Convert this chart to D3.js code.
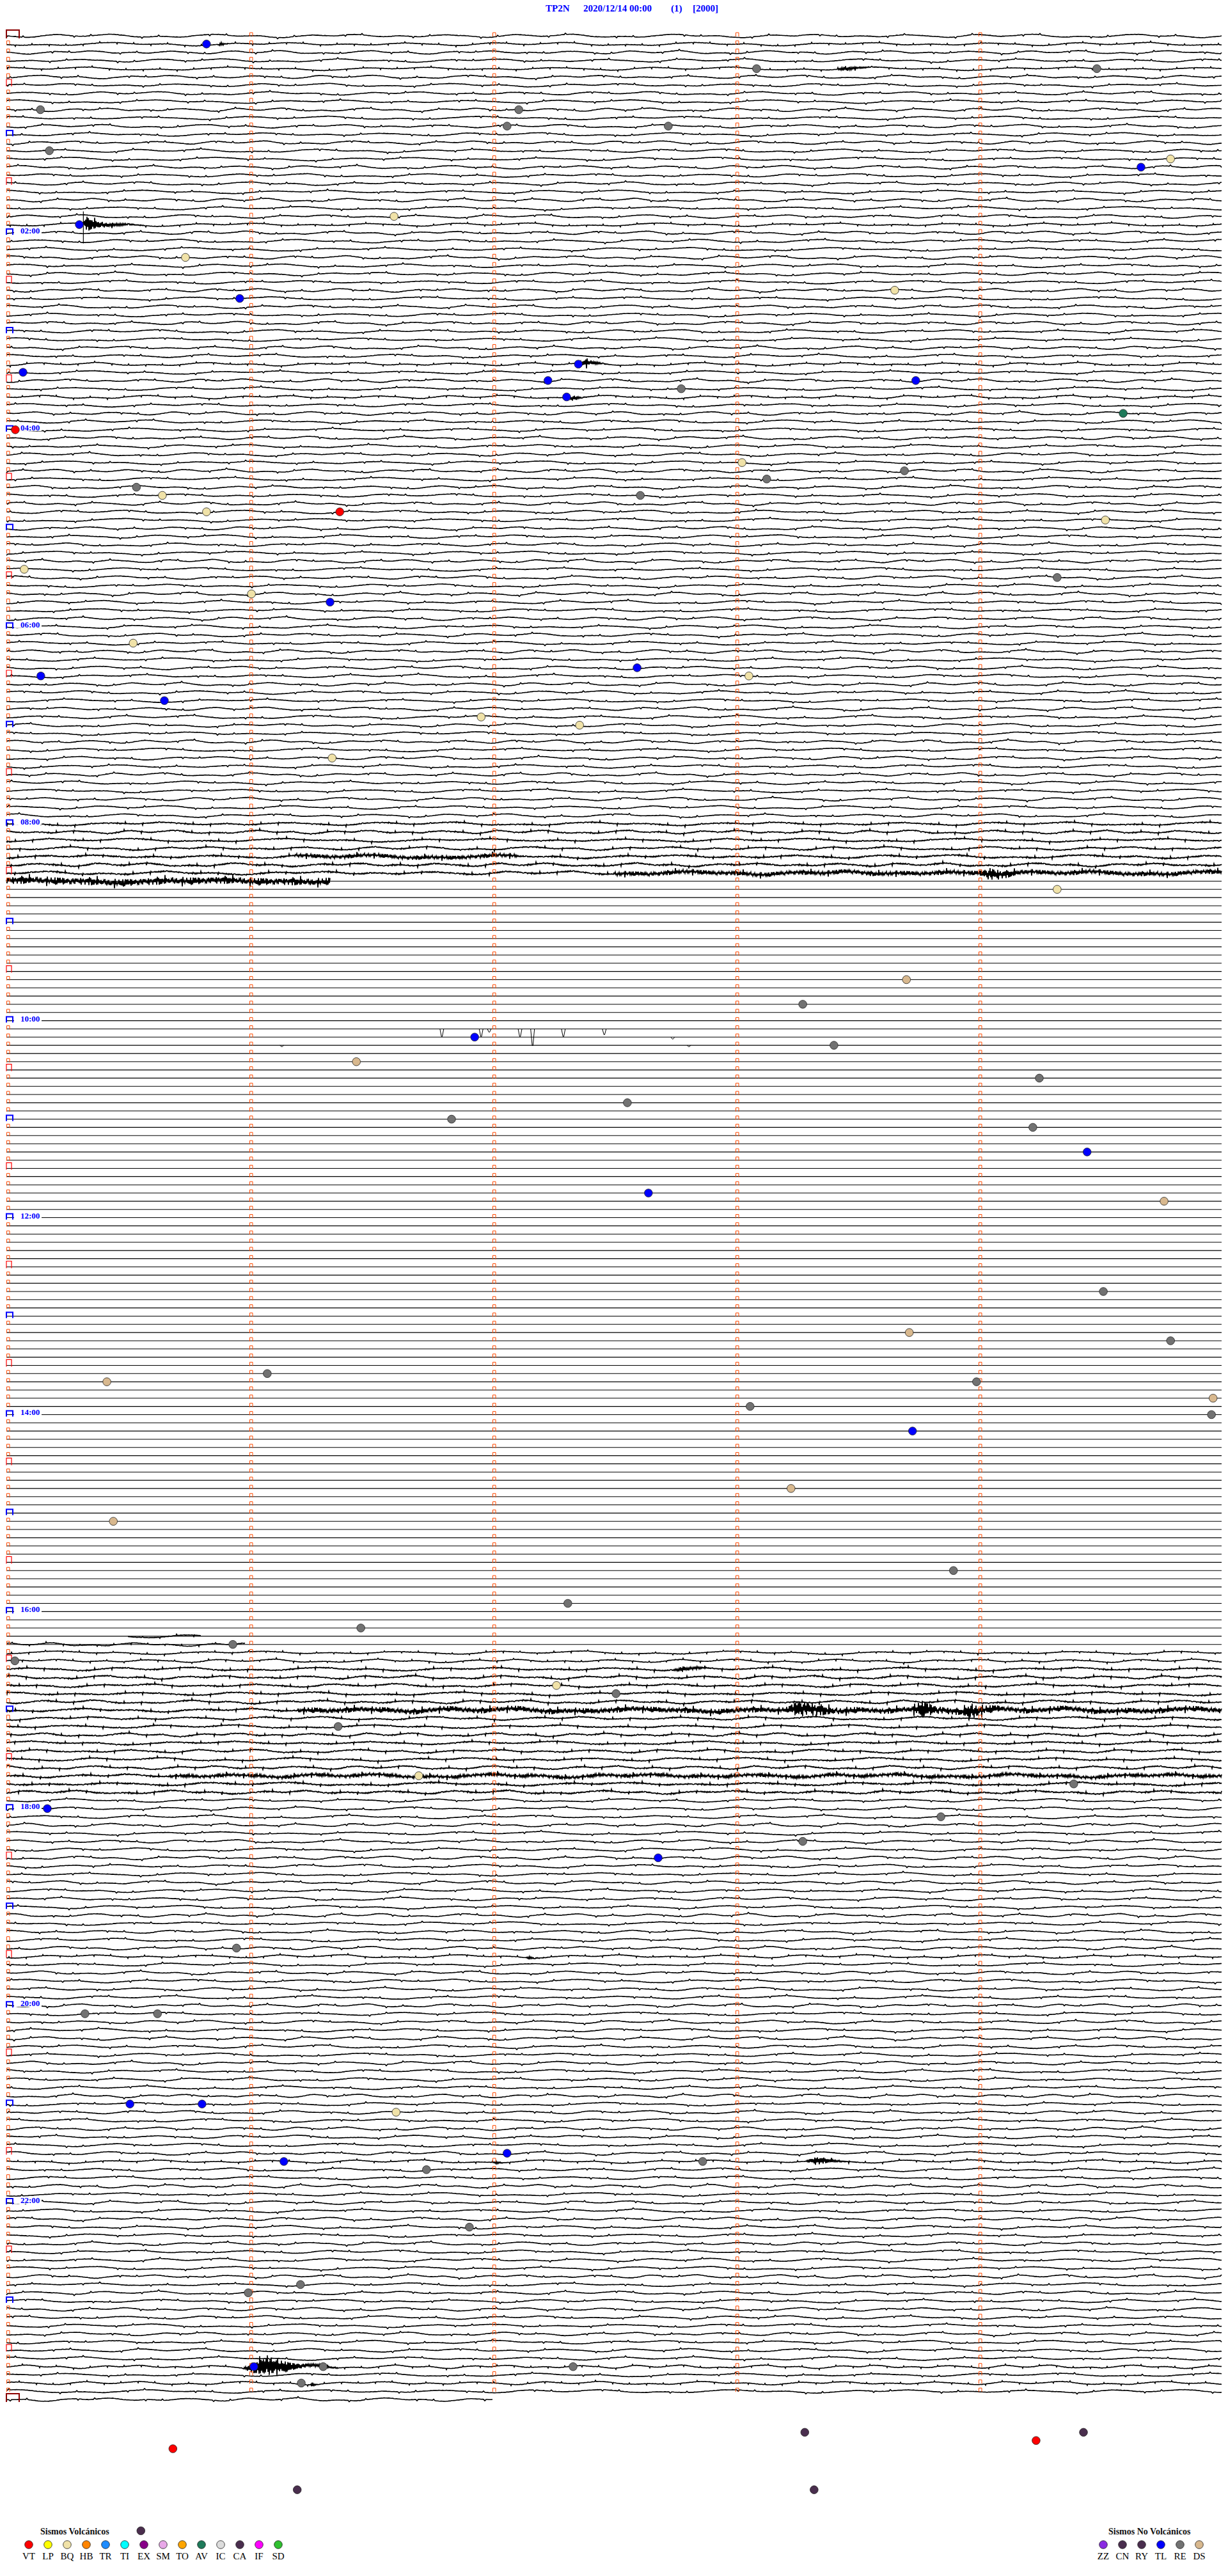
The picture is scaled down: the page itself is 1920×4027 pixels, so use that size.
<!DOCTYPE html>
<html>
<head>
<meta charset="utf-8">
<script src="https://cdn.jsdelivr.net/npm/d3@7"></script>
<style>
  body { margin: 0; background: #fff; }
  svg { display: block; }
</style>
</head>
<body>
<div id="helicorder"></div>
<script>
// ---- header / page info
const titleParts = ['TP2N', '2020/12/14 00:00', '(1)', '[2000]']

// ---- time layout: one line per 5 minutes, 24 h + a stub line for 24:00
const secondsPerRow = 300
const rowCount = 289
const lastRowSeconds = 120
const hourLabels = ['02:00', '04:00', '06:00', '08:00', '10:00', '12:00', '14:00', '16:00', '18:00', '20:00', '22:00']
const hourLabelRows = [24, 48, 72, 96, 120, 144, 168, 192, 216, 240, 264]

// rows with a dead (straight) trace: [fromRow, toRow]
const flatRows = [[104, 194]]
// rows that are flat except for a wiggly stretch: [row, fromSec, toSec]
const partialRows = [[103, 0, 80], [195, 30, 48], [196, 0, 59]]
// glitches on the dead trace: [row, sec, depth]
const dips = [
  [121, 107.5, 12], [121, 117.2, 12], [121, 119.2, 5], [121, 126.8, 12], [121, 129.9, 26],
  [121, 137.5, 12], [121, 147.6, 9], [122, 164.5, 3], [123, 168.5, 2], [123, 68, 2]
]
// background noise level per block of rows: [fromRow, toRow, level]
const noiseBlocks = [
  [0, 95, 1], [96, 99, 1.7], [100, 102, 2], [103, 103, 3],
  [195, 198, 1.2], [199, 203, 1.8], [204, 204, 2], [205, 211, 1.7], [212, 214, 2], [215, 288, 1]
]
// steady noise bands: [row, fromSec, toSec, amplitude]
const noiseBands = [
  [100, 71, 126, 2.5], [102, 150, 300, 3], [103, 0, 80, 4.5], [204, 72, 300, 4], [212, 40, 300, 2]
]
// impulsive signals: [row, startSec, peakSec, endSec, amplitude]
const quakes = [
  [1, 52, 53, 55, 4], [4, 205, 207, 216, 5], [23, 18.5, 20, 34, 12], [40, 141, 143, 149, 8],
  [44, 138, 140, 144, 6], [102, 240, 243, 252, 9], [199, 164.5, 167, 174, 5],
  [204, 193, 196, 210, 12], [204, 223, 226, 236, 10], [204, 236, 238, 246, 12],
  [234, 128, 129, 134, 3], [259, 120, 121, 124, 3], [259, 197, 200, 210, 8],
  [284, 58, 64.5, 82, 20], [286, 72.5, 72.8, 74, 6], [286, 75, 75.3, 77, 6]
]
// vertical pick line: [sec, fromRow, toRow]
const picks = [[19, 21.4, 25.3]]

// ---- classified events: [row, sec, type]
const events = [
  [1, 49.4, 'TL'], [4, 185.2, 'RE'], [4, 269.2, 'RE'], [9, 8.4, 'RE'], [9, 126.5, 'RE'],
  [11, 123.6, 'RE'], [11, 163.4, 'RE'], [14, 10.6, 'RE'], [15, 287.4, 'BQ'], [16, 280.1, 'TL'],
  [22, 95.7, 'BQ'], [23, 18.0, 'TL'], [27, 44.2, 'BQ'], [31, 219.3, 'BQ'], [32, 57.6, 'TL'],
  [41, 4.1, 'TL'], [40, 141.2, 'TL'], [42, 133.7, 'TL'], [42, 224.5, 'TL'], [43, 166.6, 'RE'],
  [44, 138.3, 'TL'], [46, 275.7, 'AV'], [48, 2.2, 'VT'], [52, 181.6, 'BQ'], [54, 187.7, 'RE'],
  [53, 221.7, 'RE'], [55, 32.1, 'RE'], [56, 156.5, 'RE'], [56, 38.5, 'BQ'], [58, 49.4, 'BQ'],
  [58, 82.3, 'VT'], [59, 271.3, 'BQ'], [65, 4.4, 'BQ'], [66, 259.4, 'RE'], [68, 60.5, 'BQ'],
  [69, 79.9, 'TL'], [74, 31.3, 'BQ'], [78, 8.5, 'TL'], [77, 155.7, 'TL'], [78, 183.3, 'BQ'],
  [81, 39.0, 'TL'], [83, 117.2, 'BQ'], [84, 141.5, 'BQ'], [88, 80.4, 'BQ'], [104, 259.4, 'BQ'],
  [115, 222.2, 'DS'], [118, 196.6, 'RE'], [122, 115.6, 'TL'], [123, 204.3, 'RE'], [125, 86.4, 'DS'],
  [127, 255.0, 'RE'], [130, 153.3, 'RE'], [132, 109.9, 'RE'], [133, 253.4, 'RE'], [136, 266.8, 'TL'],
  [141, 158.5, 'TL'], [142, 285.8, 'DS'], [153, 270.8, 'RE'], [158, 222.9, 'DS'], [159, 287.4, 'RE'],
  [163, 64.4, 'RE'], [164, 24.8, 'DS'], [164, 239.5, 'RE'], [166, 297.9, 'DS'], [167, 183.6, 'RE'],
  [168, 297.5, 'RE'], [170, 223.7, 'TL'], [177, 193.7, 'DS'], [181, 26.4, 'DS'], [187, 233.8, 'RE'],
  [191, 138.6, 'RE'], [194, 87.5, 'RE'], [196, 55.9, 'RE'], [198, 2.1, 'RE'], [201, 135.8, 'BQ'],
  [202, 150.5, 'RE'], [206, 81.9, 'RE'], [212, 101.8, 'BQ'], [213, 263.5, 'RE'], [216, 10.1, 'TL'],
  [217, 230.7, 'RE'], [220, 196.6, 'RE'], [222, 160.9, 'TL'], [233, 56.8, 'RE'], [241, 19.4, 'RE'],
  [241, 37.3, 'RE'], [252, 30.5, 'TL'], [252, 48.3, 'TL'], [253, 96.2, 'BQ'], [258, 123.6, 'TL'],
  [259, 68.5, 'TL'], [260, 103.7, 'RE'], [259, 171.9, 'RE'], [267, 114.3, 'RE'], [274, 72.6, 'RE'],
  [275, 59.7, 'RE'], [284, 61.1, 'TL'], [284, 78.2, 'RE'], [286, 72.8, 'RE'], [284, 139.9, 'RE'],
  [292, 197.1, 'CA'], [292, 265.9, 'CA'], [294, 41.1, 'VT'], [293, 254.2, 'VT'], [299, 71.8, 'CA'],
  [299, 199.4, 'CA'], [304, 33.2, 'CA']
]

// ---- legend
const volcanicCodes = ['VT', 'LP', 'BQ', 'HB', 'TR', 'TI', 'EX', 'SM', 'TO', 'AV', 'IC', 'CA', 'IF', 'SD']
const volcanicColors = ['#ff0000', '#ffff00', '#f0e2a8', '#ff8400', '#1e8cff', '#00ffff', '#880088', '#e8a8e8',
  '#ffa500', '#1e7a5a', '#dcdcdc', '#4a2e4e', '#ff00ff', '#30c030']
const otherCodes = ['ZZ', 'CN', 'RY', 'TL', 'RE', 'DS']
const otherColors = ['#8a2be2', '#4a2e4e', '#4a2e4e', '#0000ff', '#727272', '#d8b88e']

// texture tables for the background wiggle of the drum record
const wobble = [0, 0.4, 0.9, 0.6, -0.2, -0.8, -0.5, 0.1, 0.3, -0.1, -0.6, -1, -0.4, 0.3, 0.7, 0.5,
  0.2, 0.4, 0.8, 0.3, -0.3, -0.7, -0.9, -0.3, 0.2, 0.1, -0.2, 0.3, 0.9, 1, 0.4, -0.1,
  -0.5, -0.2, 0.2, -0.3, -0.8, -0.6, 0, 0.5, 0.3, -0.1, 0.2, 0.6, 0.1, -0.4, -0.6, -0.2]
const wobbleSpacing = [15, 19, 13, 17, 21, 14, 18, 16, 20, 12, 22]
const jitter = [0.2, -0.5, 0.9, -0.1, 0.4, -0.8, 0.1, 0.6, -0.3, -0.9, 0.5, 0.0, -0.4, 0.8, -0.6, 0.3,
  -0.2, 1.0, -0.7, 0.2, 0.4, -0.1, -0.5, 0.7, -0.9, 0.3, 0.1, -0.3, 0.6, -0.4, 0.9, -0.2, 0.0,
  -0.8, 0.5, 0.2, -0.6, 0.4, -0.1, 0.7, -1.0, 0.3, -0.3, 0.1, 0.8, -0.5, 0.2, -0.7, 0.6, -0.2, 0.4, -0.4, 0.1]

const codeColor = {}
volcanicCodes.forEach((c, i) => { codeColor[c] = volcanicColors[i] })
otherCodes.forEach((c, i) => { codeColor[c] = otherColors[i] })

// ---- scales
const x = d3.scaleLinear().domain([0, secondsPerRow]).range([10, 1910])
const y = d3.scaleLinear().domain([0, 288]).range([56, 56 + 288 * 12.83])
const wobblePx = d3.scaleLinear().domain([-1, 1]).range([-3, 3])

const svg = d3.select('#helicorder')
  .append('svg')
  .attr('width', 1920)
  .attr('height', 4027)
  .style('font-family', "'Liberation Serif', 'DejaVu Serif', serif")

// title
const titleX = [853, 912, 1049, 1083]
svg.append('g').selectAll('text')
  .data(titleParts)
  .join('text')
  .attr('x', (d, i) => titleX[i])
  .attr('y', 18)
  .attr('fill', '#0000ff')
  .attr('font-weight', 'bold')
  .attr('font-size', 15)
  .text(d => d)

function inBlocks(r, blocks) {
  return blocks.some(b => r >= b[0] && r <= b[1])
}
function noiseLevel(r) {
  const b = noiseBlocks.find(b => r >= b[0] && r <= b[1])
  return b ? b[2] : 1
}
function jit(k, r) {
  const n = jitter.length
  return jitter[((k * 7 + r * r * 5 + r * 3) % n + n) % n]
}
// uniform cubic B-spline through the wobble table
function smooth(px, r) {
  const n = wobble.length
  const u = (px - 10) / wobbleSpacing[r % wobbleSpacing.length]
  const k = Math.floor(u), t = u - k
  const off = (r * 13 + (r >> 2)) % n
  const p = i => wobble[((k + i + off) % n + n) % n]
  return ((1 - t) ** 3 * p(-1) + (3 * t ** 3 - 6 * t * t + 4) * p(0) +
    (-3 * t ** 3 + 3 * t * t + 3 * t + 1) * p(1) + t ** 3 * p(2)) / 6
}
function extra(px, r, k) {
  const sec = x.invert(px)
  const j = jit(k, r)
  const sign = k % 2 ? 1 : -1
  let v = 0
  noiseBands.filter(b => b[0] === r && sec >= b[1] && sec <= b[2])
    .forEach(b => { v += sign * Math.abs(j) * b[3] })
  quakes.filter(q => q[0] === r && sec >= q[1] && sec <= q[3])
    .forEach(q => {
      const env = sec < q[2] ? (sec - q[1]) / (q[2] - q[1]) : Math.exp(-3 * (sec - q[2]) / (q[3] - q[2]))
      v += sign * (0.3 + 0.7 * Math.abs(j)) * q[4] * env
    })
  return v
}

const traces = svg.append('g').attr('fill', 'none').attr('stroke', '#000')

for (let r = 0; r < rowCount; r++) {
  const y0 = y(r)
  const xEnd = r === rowCount - 1 ? x(lastRowSeconds) : x(secondsPerRow)
  const partial = partialRows.find(p => p[0] === r)
  const flat = inBlocks(r, flatRows)
  if (flat || partial) {
    traces.append('line')
      .attr('x1', x(0)).attr('x2', xEnd)
      .attr('y1', y0).attr('y2', y0)
      .attr('stroke-width', 1.1)
    if (!partial) continue
  }
  const level = noiseLevel(r)
  const busy = level > 1.1 || quakes.some(q => q[0] === r) || noiseBands.some(b => b[0] === r)
  const step = busy ? 1 : 2
  const x0 = partial ? x(partial[1]) : x(0)
  const x1 = partial ? x(partial[2]) : xEnd
  const pts = []
  for (let px = x0; px <= x1; px += step) {
    const k = Math.round(px)
    const j = jit(k, r)
    const tick = Math.abs(j) >= 1 ? j * 2 : j * 0.3
    const lv = level > 1 ? (k % 2 ? 1 : -1) * Math.abs(j) * (level - 1) * 1.1 : 0
    pts.push([px, y0 + wobblePx(smooth(px, r)) + tick + lv + extra(px, r, k)])
  }
  traces.append('path')
    .attr('d', d3.line()(pts))
    .attr('stroke-width', 1.6)
}

// glitches on the dead lines
traces.selectAll('path.dip')
  .data(dips)
  .join('path')
  .attr('class', 'dip')
  .attr('d', d => {
    const cx = x(d[1]), y0 = y(d[0])
    return `M${cx - 3},${y0}L${cx - 0.6},${y0 + d[2]}L${cx + 0.6},${y0 + d[2]}L${cx + 3},${y0}`
  })
  .attr('stroke-width', 1)

// pick lines
traces.selectAll('line.pick')
  .data(picks)
  .join('line')
  .attr('class', 'pick')
  .attr('x1', d => x(d[0])).attr('x2', d => x(d[0]))
  .attr('y1', d => y(d[1])).attr('y2', d => y(d[2]))
  .attr('stroke-width', 1.2)

// time marks on every line
const marks = svg.append('g').attr('fill', 'none')
for (let r = 0; r < rowCount; r++) {
  const y0 = y(r)
  const last = r === rowCount - 1
  if (r === 0 || last) {
    marks.append('path')
      .attr('d', `M${x(0)},${y0 + 4}V${y0 - 9}H${x(0) + 20}V${y0 + 4}`)
      .attr('stroke', '#8b0000').attr('stroke-width', 2)
  } else if (r % 12 === 0) {
    marks.append('path')
      .attr('d', `M${x(0)},${y0 + 3}V${y0 - 6}H${x(0) + 10}V${y0 + 3}`)
      .attr('stroke', '#0000ff').attr('stroke-width', 2)
  } else if (r % 6 === 0) {
    marks.append('path')
      .attr('d', `M${x(0)},${y0 + 2}V${y0 - 9}H${x(0) + 8}V${y0 + 2}`)
      .attr('stroke', '#ff0000').attr('stroke-width', 1.2)
  } else {
    marks.append('path')
      .attr('d', `M${x(0) + 0.5},${y0 + 1}V${y0 - 5}H${x(0) + 5}V${y0 + 1}`)
      .attr('stroke', '#ff4a00').attr('stroke-width', 1)
  }
  if (last) continue
  for (let m = 1; m < 5; m++) {
    const xm = x(m * 60)
    marks.append('path')
      .attr('d', `M${xm + 0.5},${y0 + 1}V${y0 - 5}H${xm + 5}V${y0 + 1}`)
      .attr('stroke', '#ff4a00').attr('stroke-width', 1)
  }
}

// hour labels
const labels = svg.append('g')
hourLabels.forEach((t, i) => {
  const y0 = y(hourLabelRows[i])
  labels.append('rect')
    .attr('x', 22).attr('y', y0 - 9).attr('width', 43).attr('height', 11)
    .attr('fill', '#fff')
  labels.append('text')
    .attr('x', 32).attr('y', y0 + 1)
    .attr('fill', '#0000ff')
    .attr('font-weight', 'bold')
    .attr('font-size', 13)
    .text(t)
})

// event dots
svg.append('g').selectAll('circle')
  .data(events)
  .join('circle')
  .attr('cx', d => x(d[1]))
  .attr('cy', d => y(d[0]))
  .attr('r', 6.3)
  .attr('fill', d => codeColor[d[2]])
  .attr('stroke', '#222')
  .attr('stroke-width', 0.8)

// legends
function drawLegend(title, codes, titleX, firstX) {
  const g = svg.append('g')
  g.append('text')
    .attr('x', titleX).attr('y', 3962)
    .attr('font-weight', 'bold').attr('font-size', 14)
    .attr('fill', '#111')
    .text(title)
  const lx = d3.scalePoint().domain(codes).range([firstX, firstX + 30 * (codes.length - 1)])
  g.selectAll('circle')
    .data(codes)
    .join('circle')
    .attr('cx', d => lx(d)).attr('cy', 3978)
    .attr('r', 6.3)
    .attr('fill', d => codeColor[d])
    .attr('stroke', '#222').attr('stroke-width', 0.8)
  g.selectAll('text.code')
    .data(codes)
    .join('text')
    .attr('class', 'code')
    .attr('x', d => lx(d)).attr('y', 4001)
    .attr('text-anchor', 'middle')
    .attr('font-size', 15)
    .attr('fill', '#000')
    .text(d => d)
}
drawLegend('Sismos Volcánicos', volcanicCodes, 63, 45)
drawLegend('Sismos No Volcánicos', otherCodes, 1733, 1725)
</script>
</body>
</html>
